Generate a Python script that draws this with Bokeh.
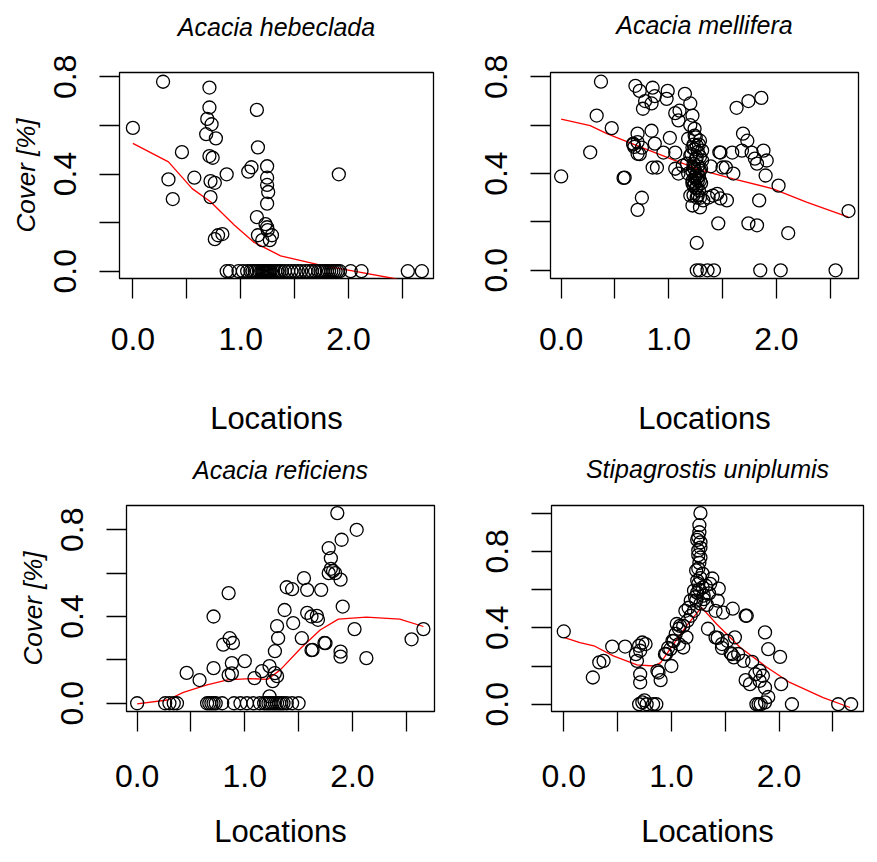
from bokeh.plotting import figure
from bokeh.layouts import column, row
from bokeh.models import FixedTicker, Range1d, PrintfTickFormatter, Title
from bokeh.embed import file_html
from bokeh.resources import INLINE

# ---------------- data ----------------
titles = ["Acacia hebeclada", "Acacia mellifera", "Acacia reficiens", "Stipagrostis uniplumis"]
x_ticks = [0.0, 0.5, 1.0, 1.5, 2.0, 2.5]
x_hidden = {0.5: "", 1.5: "", 2.5: ""}

# Acacia hebeclada
heb_x = [0.0, 0.28, 0.33, 0.37, 0.455, 0.57, 0.71, 0.71, 0.69, 0.73,
         0.68, 0.77, 0.71, 0.74, 0.72, 0.76, 0.72, 0.87, 0.79, 0.83,
         0.76, 1.15, 1.16, 1.07, 1.10, 1.245, 1.245, 1.245, 1.255, 1.245,
         1.15, 1.23, 1.25, 1.29, 1.16, 1.27, 1.20, 1.245, 1.91,
         0.87, 0.90, 0.98, 1.02, 1.06, 1.09, 1.11, 1.13, 1.15, 1.17,
         1.19, 1.20, 1.21, 1.22, 1.23, 1.24, 1.25, 1.26, 1.27, 1.28,
         1.30, 1.32, 1.34, 1.36, 1.38, 1.41, 1.44, 1.47, 1.50, 1.53,
         1.56, 1.60, 1.63, 1.66, 1.69, 1.72, 1.74, 1.76, 1.78, 1.80,
         1.82, 1.84, 1.86, 1.88, 1.90, 1.92, 2.02, 2.12, 2.55, 2.68]
heb_y = [0.59, 0.78, 0.378, 0.297, 0.49, 0.385, 0.756, 0.674, 0.627, 0.605,
         0.564, 0.547, 0.474, 0.467, 0.371, 0.364, 0.305, 0.399, 0.148, 0.153,
         0.132, 0.664, 0.51, 0.41, 0.428, 0.432, 0.385, 0.355, 0.326, 0.278,
         0.223, 0.194, 0.169, 0.148, 0.148, 0.128, 0.128, 0.181, 0.399,
         0, 0, 0, 0, 0, 0, 0, 0, 0, 0,
         0, 0, 0, 0, 0, 0, 0, 0, 0, 0,
         0, 0, 0, 0, 0, 0, 0, 0, 0, 0,
         0, 0, 0, 0, 0, 0, 0, 0, 0, 0,
         0, 0, 0, 0, 0, 0, 0, 0, 0, 0]
heb_fit_x = [0.0, 0.33, 0.55, 0.72, 0.94, 1.12, 1.37, 1.74, 2.05, 2.42, 2.55, 2.68]
heb_fit_y = [0.526, 0.45, 0.34, 0.286, 0.19, 0.12, 0.063, 0.025, 0.0, -0.03, -0.045, -0.06]

# Acacia mellifera
mel_x = [0.0, 0.27, 0.33, 0.37, 0.47, 0.58, 0.59, 0.71, 0.75, 0.67,
         0.71, 0.73, 0.68, 0.69, 0.73, 0.78, 0.76, 0.85, 0.87, 0.84,
         0.99, 0.98, 0.71, 0.84, 0.67, 0.75, 0.71, 0.87, 0.95, 1.01,
         1.06, 0.85, 0.89, 1.15, 1.20, 1.10, 1.06, 1.09, 1.22, 1.20,
         1.24, 1.06, 1.09, 1.13, 1.18, 1.24, 1.29, 1.22, 1.26, 1.31,
         1.20, 1.26, 1.31, 1.17, 1.23, 1.29, 1.18, 1.24, 1.22, 1.29,
         1.26, 1.20, 1.26, 1.32, 1.22, 1.29, 1.37, 1.41, 1.48, 1.54,
         1.48, 1.59, 1.50, 1.60, 1.69, 1.73, 1.68, 1.77, 1.80, 1.82,
         1.63, 1.74, 1.86, 1.26, 1.26, 1.29, 1.36, 1.42, 1.46, 1.74,
         1.82, 1.84, 1.88, 1.91, 1.90, 1.85, 2.02, 2.04, 2.11, 2.55,
         2.67, 1.23, 1.25, 1.27, 1.24, 1.28, 1.25, 1.27, 1.23, 1.28,
         1.39, 1.45, 1.47, 1.53, 1.21, 1.23, 1.25, 1.27, 1.29, 1.22,
         1.24, 1.26, 1.28, 1.30, 1.22, 1.24, 1.26, 1.30, 1.25, 1.27,
         1.23, 1.29]
mel_y = [0.388, 0.488, 0.64, 0.78, 0.588, 0.382, 0.383, 0.25, 0.30, 0.52,
         0.53, 0.48, 0.51, 0.763, 0.742, 0.70, 0.668, 0.755, 0.72, 0.69,
         0.742, 0.709, 0.565, 0.577, 0.524, 0.507, 0.482, 0.524, 0.487, 0.548,
         0.487, 0.425, 0.425, 0.73, 0.69, 0.66, 0.65, 0.62, 0.64, 0.60,
         0.585, 0.42, 0.40, 0.433, 0.544, 0.557, 0.536, 0.507, 0.515, 0.495,
         0.474, 0.466, 0.454, 0.441, 0.425, 0.412, 0.40, 0.384, 0.359, 0.371,
         0.342, 0.309, 0.301, 0.289, 0.268, 0.26, 0.301, 0.309, 0.297, 0.289,
         0.487, 0.487, 0.425, 0.40, 0.565, 0.536, 0.495, 0.487, 0.462, 0.441,
         0.672, 0.70, 0.713, 0.113, 0.0, 0.0, 0.0, 0.0, 0.194, 0.194,
         0.186, 0.289, 0.495, 0.454, 0.392, 0.0, 0.35, 0.0, 0.154, 0.0,
         0.245, 0.44, 0.46, 0.43, 0.50, 0.52, 0.39, 0.37, 0.35, 0.33,
         0.43, 0.316, 0.488, 0.426, 0.48, 0.52, 0.55, 0.49, 0.47, 0.41,
         0.42, 0.40, 0.39, 0.42, 0.37, 0.36, 0.38, 0.36, 0.34, 0.31,
         0.31, 0.30]
mel_fit_x = [0.0, 0.27, 0.43, 0.74, 1.05, 1.29, 1.60, 1.97, 2.28, 2.67]
mel_fit_y = [0.625, 0.598, 0.564, 0.509, 0.456, 0.415, 0.378, 0.337, 0.282, 0.22]

# Acacia reficiens
ref_x = [0.0, 0.26, 0.30, 0.34, 0.37, 0.46, 0.58, 0.71, 0.71, 0.85,
         0.80, 0.86, 0.89, 0.88, 0.85, 0.88, 1.00, 1.09, 1.16, 1.23,
         1.28, 1.26, 1.30, 1.23, 1.28, 1.31, 1.30, 1.37, 1.45, 1.58,
         1.67, 1.53, 1.62, 1.74, 1.39, 1.44, 1.55, 1.58, 1.62, 1.68,
         1.63, 1.71, 1.75, 1.78, 1.80, 1.78, 1.80, 1.82, 1.84, 1.89,
         1.86, 1.90, 1.91, 1.89, 1.89, 2.04, 2.02, 2.13, 2.55, 2.66,
         0.65, 0.67, 0.69, 0.71, 0.73, 0.79, 0.90, 0.96, 1.02, 1.08,
         1.14, 1.18, 1.20, 1.22, 1.24, 1.26, 1.28, 1.30, 1.32, 1.34,
         1.36, 1.39, 1.44, 1.50]
ref_y = [0.0, 0.0, 0.0, 0.0, 0.0, 0.14, 0.107, 0.40, 0.162, 0.508,
         0.27, 0.30, 0.278, 0.185, 0.13, 0.138, 0.194, 0.116, 0.148, 0.171,
         0.139, 0.102, 0.125, 0.032, 0.24, 0.30, 0.356, 0.43, 0.37, 0.417,
         0.403, 0.30, 0.245, 0.278, 0.535, 0.526, 0.577, 0.523, 0.40, 0.385,
         0.246, 0.523, 0.277, 0.715, 0.669, 0.60, 0.62, 0.61, 0.60, 0.57,
         0.877, 0.754, 0.446, 0.238, 0.215, 0.80, 0.342, 0.208, 0.295, 0.342,
         0, 0, 0, 0, 0, 0, 0, 0, 0, 0,
         0, 0, 0, 0, 0, 0, 0, 0, 0, 0,
         0, 0, 0, 0]
ref_fit_x = [0.0, 0.28, 0.43, 0.65, 0.84, 1.05, 1.21, 1.33, 1.52, 1.70, 1.87, 2.13, 2.44, 2.66]
ref_fit_y = [-0.003, 0.015, 0.05, 0.085, 0.108, 0.114, 0.11, 0.154, 0.254, 0.338, 0.388, 0.397, 0.388, 0.354]

# Stipagrostis uniplumis
sti_x = [0.0, 0.27, 0.33, 0.37, 0.45, 0.57, 0.67, 0.70, 0.73, 0.76,
         0.71, 0.68, 0.71, 0.71, 0.70, 0.73, 0.77, 0.83, 0.86, 0.75,
         0.88, 0.90, 0.87, 0.94, 0.99, 1.00, 1.05, 1.08, 1.02, 1.07,
         1.11, 1.14, 1.27, 1.26, 1.25, 1.27, 1.25, 1.27, 1.25, 1.29,
         1.24, 1.29, 1.24, 1.30, 1.23, 1.27, 1.21, 1.18, 1.15, 1.11,
         1.07, 1.04, 1.01, 0.97, 0.95, 1.38, 1.44, 1.43, 1.41, 1.48,
         1.57, 1.70, 1.34, 1.43, 1.52, 1.47, 1.55, 1.62, 1.18, 1.21,
         1.16, 1.13, 1.41, 1.47, 1.56, 1.58, 1.67, 1.59, 1.69, 1.75,
         1.69, 1.73, 1.78, 1.82, 1.85, 1.82, 1.87, 1.87, 1.90, 2.01,
         2.02, 1.90, 1.79, 1.81, 1.83, 1.87, 2.12, 2.55, 2.67, 1.26,
         1.24, 1.27, 1.25, 1.26, 1.23, 1.27, 1.25, 1.26, 1.22, 1.32,
         1.35, 1.30, 1.33, 1.36]
sti_y = [0.381, 0.14, 0.219, 0.227, 0.302, 0.302, 0.262, 0.306, 0.323, 0.315,
         0.28, 0.227, 0.157, 0.114, 0.0, 0.01, 0.0, 0.0, 0.0, 0.02,
         0.166, 0.126, 0.175, 0.262, 0.288, 0.20, 0.42, 0.41, 0.33, 0.315,
         0.297, 0.35, 1.0, 0.937, 0.874, 0.847, 0.805, 0.768, 0.71, 0.684,
         0.647, 0.611, 0.584, 0.568, 0.542, 0.526, 0.489, 0.463, 0.437, 0.41,
         0.395, 0.368, 0.332, 0.295, 0.263, 0.658, 0.605, 0.542, 0.489, 0.479,
         0.50, 0.463, 0.395, 0.347, 0.332, 0.295, 0.268, 0.263, 0.542, 0.595,
         0.505, 0.489, 0.35, 0.315, 0.262, 0.245, 0.227, 0.35, 0.463, 0.222,
         0.126, 0.105, 0.157, 0.175, 0.149, 0.122, 0.087, 0.376, 0.288, 0.248,
         0.105, 0.038, 0.0, 0.0, 0.0, 0.01, 0.0, 0.0, 0.0, 0.90,
         0.86, 0.82, 0.78, 0.74, 0.70, 0.66, 0.63, 0.60, 0.56, 0.62,
         0.58, 0.55, 0.52, 0.63]
sti_fit_x = [0.0, 0.15, 0.28, 0.46, 0.68, 0.84, 0.90, 1.02, 1.14, 1.28, 1.42, 1.64, 1.89, 2.10, 2.41, 2.66]
sti_fit_y = [0.35, 0.323, 0.306, 0.253, 0.206, 0.20, 0.218, 0.315, 0.41, 0.507, 0.42, 0.297, 0.192, 0.114, 0.035, -0.017]

FONT = "Liberation Sans"


def panel(title, xs, ys, fx, fy, xr, yr, yticks, yhidden, ylabel,
          left, top, fw, total_w, total_h, spacer_px, title_dx,
          xtick_standoff, xlabel_standoff):
    fh = 206
    p = figure(frame_width=fw, frame_height=fh,
               x_range=Range1d(*xr), y_range=Range1d(*yr),
               output_backend="svg", toolbar_location=None,
               title_location=None,
               min_border_left=left, min_border_top=top,
               min_border_right=total_w - left - fw,
               min_border_bottom=total_h - top - fh)
    p.grid.visible = False
    p.outline_line_color = "black"
    p.outline_line_width = 1.3
    p.outline_line_alpha = 1.0

    # spacer between frame and title, then the title itself
    p.add_layout(Title(text=" ", text_font_size=f"{spacer_px}px", standoff=0), "above")
    p.add_layout(Title(text=title, align="center", offset=title_dx,
                       text_font=FONT, text_font_style="italic",
                       text_font_size="25px", text_color="black"), "above")

    for ax in (p.xaxis[0], p.yaxis[0]):
        ax.axis_line_color = None
        ax.major_tick_in = 0
        ax.major_tick_out = 20
        ax.major_tick_line_color = "black"
        ax.major_tick_line_width = 1.3
        ax.minor_tick_line_color = None
        ax.major_label_text_font = FONT
        ax.major_label_text_font_size = "32px"
        ax.major_label_text_color = "black"
        ax.formatter = PrintfTickFormatter(format="%.1f")

    xa = p.xaxis[0]
    xa.ticker = FixedTicker(ticks=x_ticks)
    xa.major_label_overrides = x_hidden
    xa.major_label_standoff = xtick_standoff
    xa.axis_label = "Locations"
    xa.axis_label_text_font = FONT
    xa.axis_label_text_font_style = "normal"
    xa.axis_label_text_font_size = "31px"
    xa.axis_label_text_color = "black"
    xa.axis_label_standoff = xlabel_standoff

    ya = p.yaxis[0]
    ya.ticker = FixedTicker(ticks=yticks)
    ya.major_label_overrides = yhidden
    ya.major_label_orientation = "vertical"
    ya.major_label_standoff = 23
    if ylabel:
        ya.axis_label = ylabel
        ya.axis_label_text_font = FONT
        ya.axis_label_text_font_style = "italic"
        ya.axis_label_text_font_size = "26px"
        ya.axis_label_text_color = "black"
        ya.axis_label_standoff = 11

    p.line(fx, fy, line_color="red", line_width=1.3)
    p.scatter(xs, ys, marker="circle", size=13, fill_color=None,
              line_color="black", line_width=1.3)
    return p


y8 = [0.0, 0.2, 0.4, 0.6, 0.8]
y10 = [0.0, 0.2, 0.4, 0.6, 0.8, 1.0]
hid8 = {0.2: "", 0.6: ""}
hid10 = {0.2: "", 0.6: "", 1.0: ""}

p1 = panel(titles[0], heb_x, heb_y, heb_fit_x, heb_fit_y, (-0.124, 2.788), (-0.030, 0.818),
           y8, hid8, "Cover [%]", 119, 71, 314, 446, 444, 22, -2, 29, 48)
p2 = panel(titles[1], mel_x, mel_y, mel_fit_x, mel_fit_y, (-0.099, 2.763), (-0.034, 0.818),
           y8, hid8, None, 104, 72, 308, 430, 444, 24, -15, 29, 48)
p3 = panel(titles[2], ref_x, ref_y, ref_fit_x, ref_fit_y, (-0.099, 2.763), (-0.038, 0.912),
           y8, hid8, "Cover [%]", 126, 58, 308, 446, 417, 13, -3, 33, 24)
p4 = panel(titles[3], sti_x, sti_y, sti_fit_x, sti_fit_y, (-0.114, 2.785), (-0.038, 1.040),
           y10, hid10, None, 105, 61, 312, 430, 417, 14, -6, 33, 24)

layout = column(row(p1, p2), row(p3, p4))
open("out.html", "w").write(file_html(layout, INLINE))
